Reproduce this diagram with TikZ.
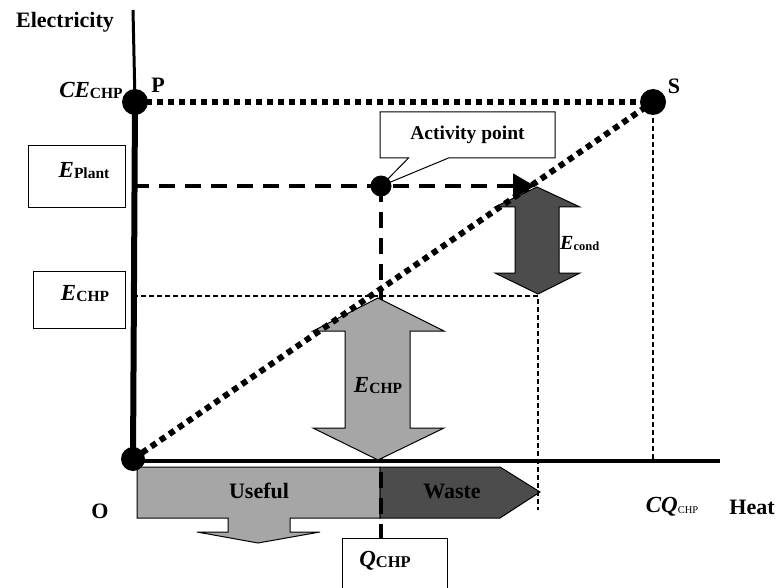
\documentclass[tikz,border=0pt]{standalone}
\usepackage{fontspec}
\setmainfont{Liberation Serif}
\usetikzlibrary{arrows.meta,positioning,shapes.callouts}

\newcommand{\qsym}[3][15.5]{{\fontsize{23}{26}\selectfont\bfseries\itshape #2}\raisebox{-1pt}{\fontsize{#1}{#1}\selectfont\bfseries #3}}

\begin{document}
\begin{tikzpicture}[
  x=1pt, y=-1pt,
  lbl/.style={font=\fontsize{22}{26}\selectfont\bfseries, inner sep=0pt},
  sym/.style={inner sep=0pt},
  dot/.style={circle, fill=black, inner sep=0pt, minimum size=#1},
  box/.style={rectangle, draw, line width=1pt, fill=white, inner sep=0pt},
  dotline/.style={line width=6pt, dash pattern=on 6pt off 5pt},
  bigdash/.style={line width=4.5pt, dash pattern=on 16pt off 10pt},
  thindash/.style={line width=1.2pt, dash pattern=on 5pt off 3pt},
  lightarr/.style={draw, line width=1pt, fill=black!35, line join=miter},
  darkarr/.style={draw, line width=1pt, fill=black!70, line join=miter}
]
\useasboundingbox (0,0) rectangle (779,588);

% Axes and points
\coordinate (ytop) at (133,10);
\coordinate (orig) at (133,461);
\coordinate (xend) at (720,461);
\coordinate (P) at (135,102);
\coordinate (S) at (653,102);
\coordinate (O) at (133,459);
\coordinate (act) at (381,186);
\coordinate (eplant) at (133,186);
\coordinate (tip) at (535,186);
\coordinate (echp) at (133,296);
\coordinate (econd) at (538,296);
\coordinate (wasteend) at (538,510);

\draw[line width=3pt] (ytop) -- (P);
\draw[line width=6pt] (P) -- (orig);
\draw[line width=3.5pt] (orig) -- (xend);

% Heat bar
\draw[lightarr] (137,467) -- (380,467) -- (380,518) -- (290,518) -- (290,532) -- (320,532)
  -- (258,543) -- (197,532) -- (228,532) -- (228,518) -- (137,518) -- cycle;
\draw[darkarr] (380,467) -- (500,467) -- (540,492) -- (500,518) -- (380,518) -- cycle;
\node[lbl] (useful) at (259,491) {Useful};
\node[lbl] (waste) at (452,491) {Waste};

% Boxes
\node[box, minimum width=97pt, minimum height=62pt] (eplantbox) at (76.5,177) {};
\node[sym] (eplantlab) at (84,171) {\qsym{E}{Plant}};
\node[box, minimum width=92pt, minimum height=57pt] (echpbox) at (79,299.5) {};
\node[sym] (echplab) at (85,294) {\qsym{E}{CHP}};
\node[box, minimum width=105pt, minimum height=60pt, anchor=north west] (qbox) at (342,538) {};
\node[sym] (qlab) at (385,561) {\qsym[16.5]{Q}{CHP}};

% Guide lines
\draw[thindash] (S) -- (S |- orig);
\draw[thindash] (echp) -- (econd) -- (wasteend);
\draw[dotline] (P) -- (S);
\draw[bigdash, -{Triangle[length=22pt,width=24pt]}] (eplant) -- (tip);
\draw[bigdash] (act) -- (act |- qbox.north);

% Energy arrows
\draw[lightarr] (378,298) -- (444,331) -- (410,331) -- (410,428) -- (444,428) -- (378,460)
  -- (313,428) -- (345,428) -- (345,331) -- (313,331) -- cycle;
\node[sym] (echparr) at (378,386) {\qsym{E}{CHP}};
\draw[darkarr] (537,187) -- (580,207) -- (559,207) -- (559,273) -- (580,273) -- (538,294)
  -- (495,273) -- (515,273) -- (515,207) -- (495,207) -- cycle;
\node[sym, anchor=west] (econdlab) at (560,244) {{\fontsize{20}{22}\selectfont\bfseries\itshape E}\raisebox{-1pt}{\fontsize{12.5}{13}\selectfont\bfseries cond}};

\draw[dotline] (O) -- (S);

% Callout
\node[rectangle callout, draw, line width=1pt, fill=white, minimum width=175pt, minimum height=46pt,
  callout absolute pointer={(act)}, callout pointer width=40pt,
  font=\fontsize{19.5}{22}\selectfont\bfseries] (actbox) at (467.5,135) {Activity point};

% Dots
\node[dot=26pt] (Pdot) at (P) {};
\node[dot=26pt] (Sdot) at (S) {};
\node[dot=24pt] (Odot) at (O) {};
\node[dot=21pt] (actdot) at (act) {};

% Labels
\node[lbl] (ylab) at (65,22) {Electricity};
\node[lbl] (xlab) at (752,507) {Heat};
\node[lbl] (olab) at (100,511) {O};
\node[lbl] (plab) at (158,85) {P};
\node[lbl] (slab) at (674,86) {S};
\node[sym] (celab) at (91,90) {\qsym{CE}{CHP}};
\node[sym] (cqlab) at (672,507) {{\fontsize{23}{26}\selectfont\bfseries\itshape CQ}\raisebox{-1pt}{\fontsize{10.5}{11}\selectfont CHP}};

\end{tikzpicture}
\end{document}
